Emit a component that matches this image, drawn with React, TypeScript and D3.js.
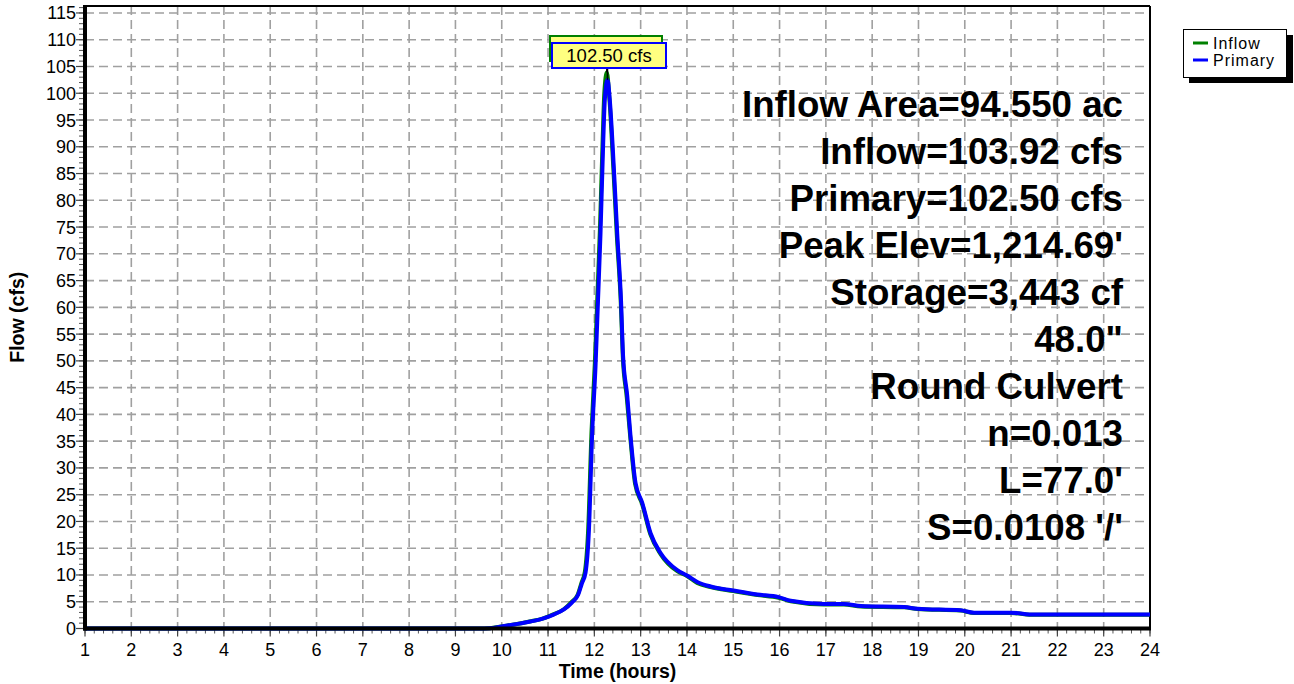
import React from "react";
import * as d3 from "d3";

const primaryHours = [1, 9.5, 9.75, 10.0, 10.3, 10.62, 10.9, 11.12, 11.35, 11.52, 11.65, 11.73, 11.809, 11.88, 11.953, 12.025, 12.079, 12.133, 12.191, 12.226, 12.284, 12.334, 12.42, 12.494, 12.576, 12.62, 12.71, 12.781, 12.889, 13.034, 13.214, 13.43, 13.791, 14.0, 14.223, 14.51, 15.0, 15.52, 15.98, 16.24, 16.96, 17.39, 17.76, 18.69, 18.98, 19.91, 20.2, 21.0, 21.5, 24];
const primaryCfs = [0, 0, 0.05, 0.4, 0.8, 1.3, 1.9, 2.6, 3.6, 4.9, 6.3, 8.4, 10.4, 17.8, 36.5, 48.9, 61.3, 73.8, 90.7, 98.7, 102.5, 98.7, 86.2, 73.8, 61.3, 51.0, 43.5, 36.0, 27.2, 23.5, 17.8, 14.1, 10.9, 9.9, 8.7, 7.85, 7.1, 6.36, 5.86, 5.2, 4.6, 4.6, 4.2, 4.0, 3.7, 3.4, 2.95, 2.95, 2.6, 2.6];

const inflowHours = [1, 9.5, 9.74, 10.0, 10.3, 10.6, 10.9, 11.1, 11.34, 11.5, 11.64, 11.72, 11.795, 11.865, 11.94, 12.01, 12.065, 12.12, 12.18, 12.215, 12.27, 12.325, 12.41, 12.485, 12.57, 12.615, 12.7, 12.775, 12.88, 13.03, 13.21, 13.43, 13.79, 14.0, 14.22, 14.51, 15.0, 15.52, 15.98, 16.24, 16.96, 17.39, 17.76, 18.69, 18.98, 19.91, 20.2, 21.0, 21.5, 24];
const inflowCfs = [0, 0, 0.05, 0.4, 0.8, 1.3, 1.9, 2.6, 3.6, 4.9, 6.3, 8.5, 10.6, 18.2, 37.0, 49.5, 62.0, 74.5, 91.5, 100.0, 103.92, 99.0, 86.0, 73.5, 61.0, 50.7, 43.2, 35.8, 27.0, 23.3, 17.6, 13.9, 10.7, 9.8, 8.5, 7.75, 7.0, 6.25, 5.75, 5.1, 4.5, 4.5, 4.1, 3.95, 3.65, 3.35, 2.9, 2.9, 2.55, 2.55];

const xTicks = d3.range(1, 25);
const yTicks = d3.range(0, 116, 5);
const annotations = [
  "Inflow Area=94.550 ac",
  "Inflow=103.92 cfs",
  "Primary=102.50 cfs",
  "Peak Elev=1,214.69'",
  "Storage=3,443 cf",
  "48.0\"",
  "Round Culvert",
  "n=0.013",
  "L=77.0'",
  "S=0.0108 '/'",
];
const legendItems = [
  { name: "Inflow", color: "#008000" },
  { name: "Primary", color: "#0000ff" },
];
const inflowPeakLabel = "103.92 cfs";
const primaryPeakLabel = "102.50 cfs";

const FONT = "'Liberation Sans', Arial, sans-serif";

export default function App() {
  const W = 1294, H = 684;
  const L = 85, R = 1150, T = 6, B = 628.5;
  const x = d3.scaleLinear().domain([1, 24]).range([L, R]);
  const y = d3.scaleLinear().domain([0, 116.3]).range([B, T]);

  const line = d3.line<[number, number]>()
    .x((d) => x(d[0]))
    .y((d) => y(d[1]))
    .curve(d3.curveMonotoneX);

  const inflowPts = inflowHours.map((h, i) => [h, inflowCfs[i]] as [number, number]);
  const primaryPts = primaryHours.map((h, i) => [h, primaryCfs[i]] as [number, number]);

  const yMinor = d3.range(0, 117, 1);
  const xMinor = d3.range(1, 24.01, 0.2);

  const iPeakIdx = d3.maxIndex(inflowCfs);
  const pPeakIdx = d3.maxIndex(primaryCfs);
  const ipx = x(inflowHours[iPeakIdx]);
  const ppx = x(primaryHours[pPeakIdx]);

  return (
    <svg width={W} height={H} style={{ position: "absolute", left: 0, top: 0, background: "#fff" }} fontFamily={FONT}>
      <rect x={0} y={0} width={W} height={H} fill="#fff" />
      {/* grid */}
      <g stroke="#a0a0a0" strokeWidth={1.6} strokeDasharray="9,5">
        {yTicks.filter((v) => v > 0).map((v) => (
          <line key={"gy" + v} x1={L} x2={R} y1={y(v)} y2={y(v)} />
        ))}
        {xTicks.filter((v) => v > 1 && v < 24).map((v) => (
          <line key={"gx" + v} x1={x(v)} x2={x(v)} y1={T} y2={B} />
        ))}
      </g>
      {/* minor ticks */}
      <g stroke="#555" strokeWidth={1}>
        {yMinor.map((v) => (
          <line key={"ym" + v} x1={L - 6} x2={L} y1={y(v)} y2={y(v)} />
        ))}
        {xMinor.map((v, i) => (
          <line key={"xm" + i} x1={x(v)} x2={x(v)} y1={B} y2={B + 5} />
        ))}
      </g>
      <g stroke="#444" strokeWidth={1.2}>
        {yTicks.map((v) => (
          <line key={"yM" + v} x1={L - 9} x2={L} y1={y(v)} y2={y(v)} />
        ))}
        {xTicks.map((v) => (
          <line key={"xM" + v} x1={x(v)} x2={x(v)} y1={B} y2={B + 8} />
        ))}
      </g>
      {/* frame */}
      <line x1={L} x2={R} y1={T} y2={T} stroke="#000" strokeWidth={2} />
      <line x1={R} x2={R} y1={T} y2={B} stroke="#000" strokeWidth={2} />
      {/* series */}
      <path d={line(inflowPts) || ""} fill="none" stroke="#008000" strokeWidth={4} strokeLinejoin="round" />
      <path d={line(primaryPts) || ""} fill="none" stroke="#0000ff" strokeWidth={4} strokeLinejoin="round" />
      {/* axes thick */}
      <line x1={L} x2={L} y1={T - 1} y2={B + 2} stroke="#000" strokeWidth={4} />
      <line x1={L - 2} x2={R + 1} y1={B} y2={B} stroke="#000" strokeWidth={4} />
      {/* tick labels */}
      <g fontSize={18} textAnchor="end" fill="#000">
        {yTicks.map((v) => (
          <text key={"yl" + v} x={L - 9} y={y(v) + 6.5}>{v}</text>
        ))}
      </g>
      <g fontSize={18} textAnchor="middle" fill="#000">
        {xTicks.map((v) => (
          <text key={"xl" + v} x={x(v)} y={656}>{v}</text>
        ))}
      </g>
      <text x={(L + R) / 2} y={678} textAnchor="middle" fontWeight="bold" fontSize={19.5}>Time  (hours)</text>
      <text transform={`translate(24,${(T + B) / 2}) rotate(-90)`} textAnchor="middle" fontWeight="bold" fontSize={19.5}>Flow  (cfs)</text>
      {/* annotations */}
      <g fontSize={36.7} fontWeight="bold" textAnchor="end" fill="#000">
        {annotations.map((t, i) => (
          <text key={"an" + i} x={1123} y={117 + i * 47}>{t}</text>
        ))}
      </g>
      {/* peak labels */}
      <line x1={ipx} x2={ipx} y1={61} y2={y(inflowCfs[iPeakIdx])} stroke="#000" strokeWidth={1.5} />
      <rect x={550} y={36} width={112} height={25} fill="#ffff80" stroke="#008000" strokeWidth={2} />
      <text x={606} y={55} textAnchor="middle" fontSize={18.5}>{inflowPeakLabel}</text>
      <line x1={ppx} x2={ppx} y1={68} y2={y(primaryCfs[pPeakIdx])} stroke="#000" strokeWidth={1.5} />
      <rect x={552} y={43} width={114} height={25} fill="#ffff80" stroke="#0000ff" strokeWidth={2} />
      <text x={609} y={62} textAnchor="middle" fontSize={18.5}>{primaryPeakLabel}</text>
      {/* legend */}
      <rect x={1189} y={35} width={104} height={48} fill="#000" />
      <rect x={1183.5} y={29.5} width={103} height={48} fill="#fff" stroke="#000" strokeWidth={1} />
      {legendItems.map((it, i) => (
        <g key={it.name}>
          <line x1={1193} x2={1208} y1={43 + i * 17} y2={43 + i * 17} stroke={it.color} strokeWidth={3} />
          <text x={1213} y={48.5 + i * 17} fontSize={16} letterSpacing={1}>{it.name}</text>
        </g>
      ))}
    </svg>
  );
}
